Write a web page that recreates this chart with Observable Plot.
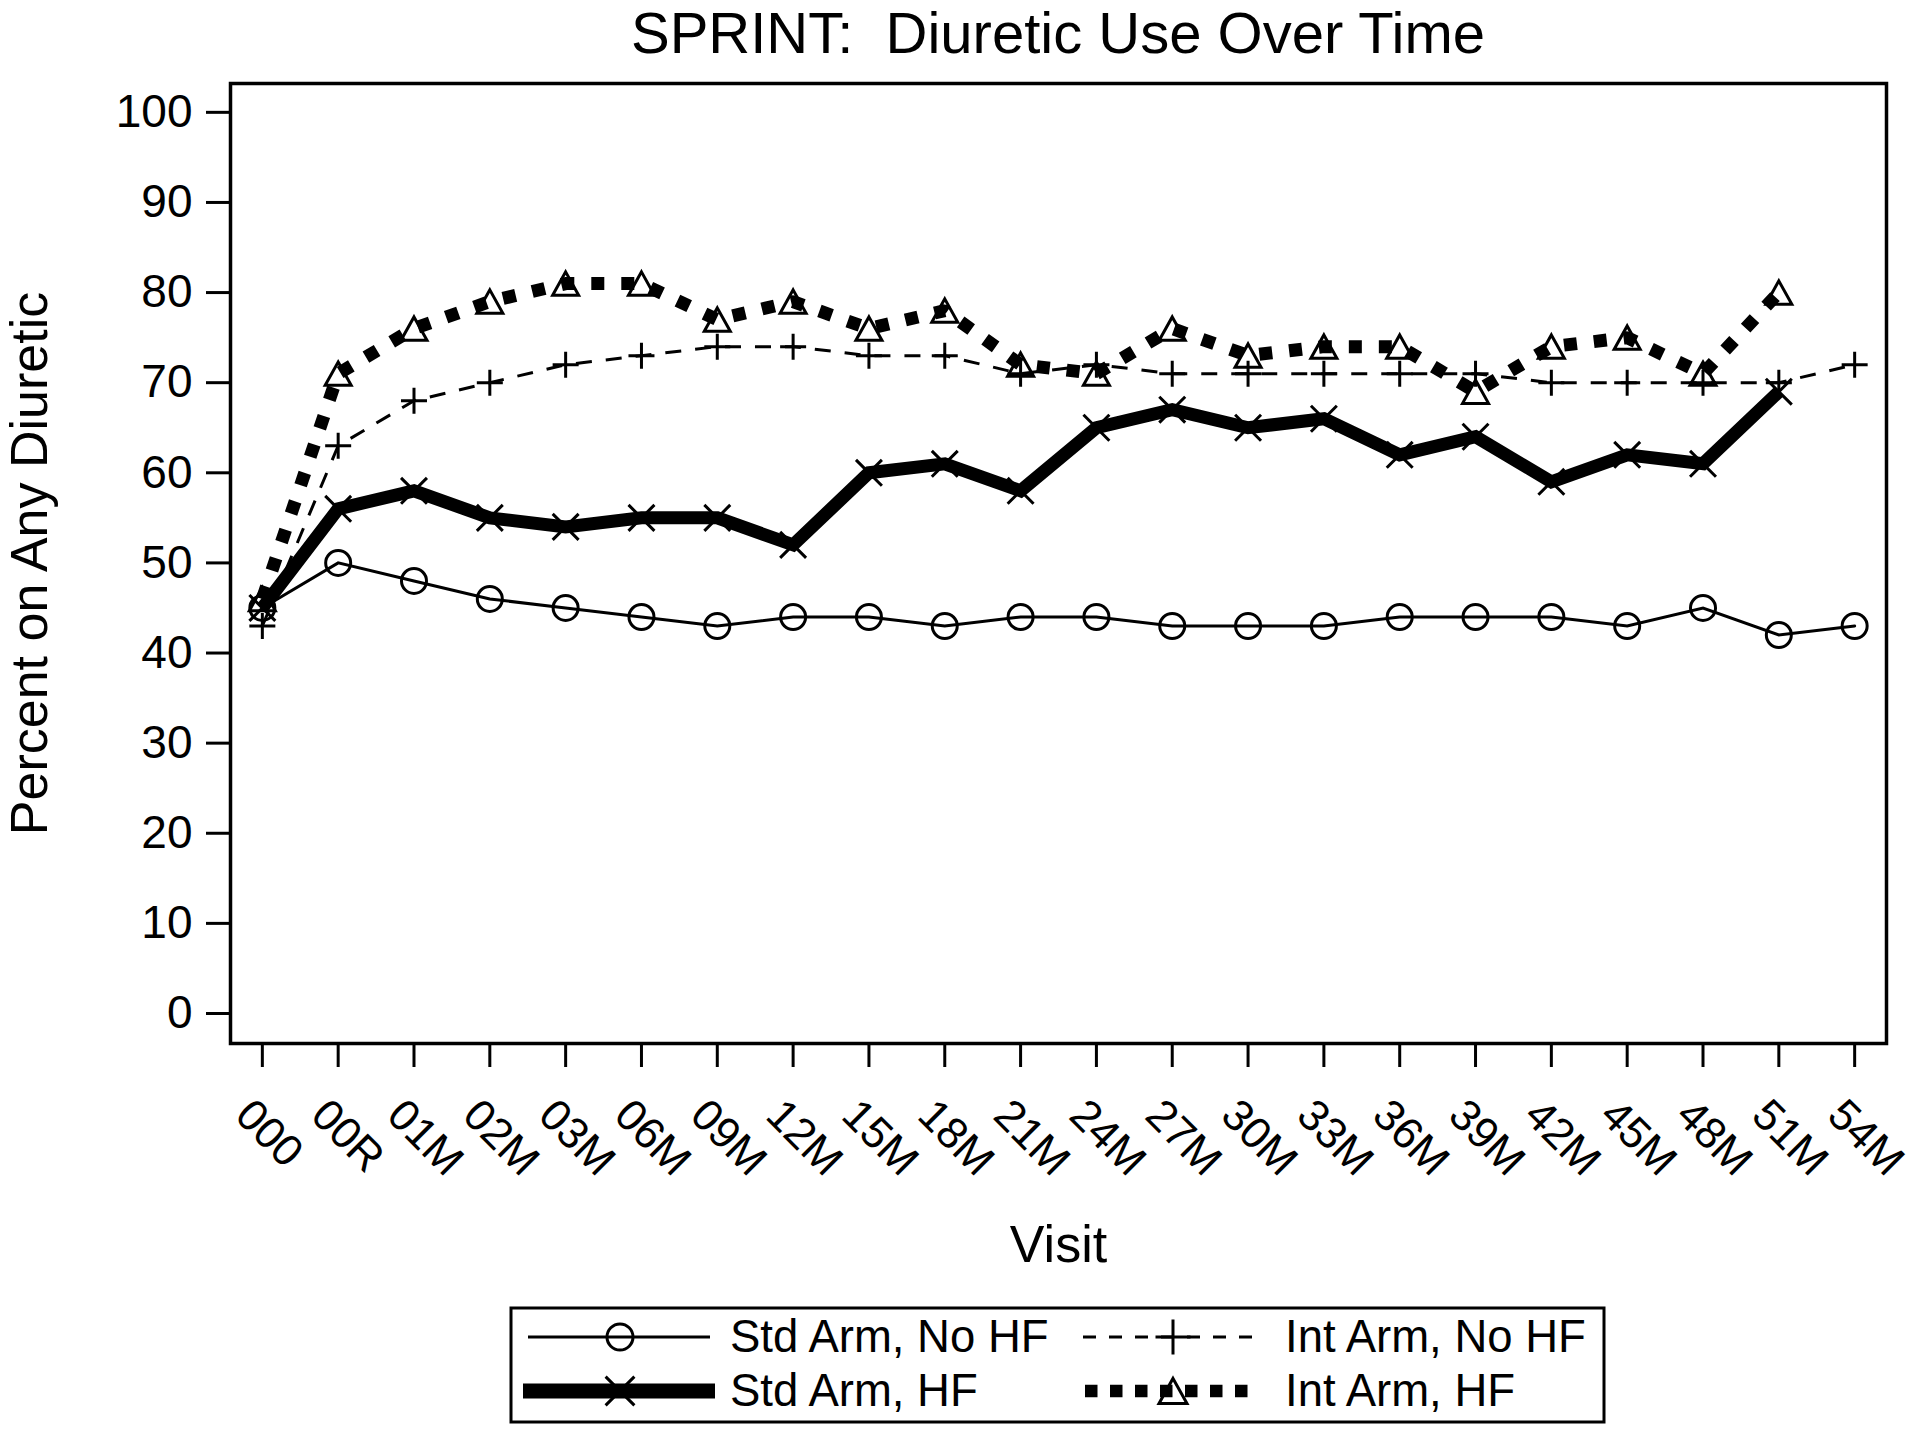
<!DOCTYPE html>
<html><head><meta charset="utf-8">
<script src="https://cdn.jsdelivr.net/npm/d3@7"></script>
<script src="https://cdn.jsdelivr.net/npm/@observablehq/plot@0.6"></script>
<style>
html,body{margin:0;padding:0;background:#fff;}
body{width:1920px;height:1431px;overflow:hidden;font-family:"Liberation Sans",Arial,Helvetica,sans-serif;color:#000;}
#title{box-sizing:border-box;width:1920px;height:70px;padding-left:196px;text-align:center;font-size:58px;line-height:66px;white-space:pre;}
svg{display:block;}
</style></head><body>
<div id="title"></div>
<div id="chart"></div>
<script>
// ---- data ----
const title = "SPRINT:  Diuretic Use Over Time";
const visits = ["000","00R","01M","02M","03M","06M","09M","12M","15M","18M","21M","24M","27M","30M","33M","36M","39M","42M","45M","48M","51M","54M"];
const stdNoHF = [45,50,48,46,45,44,43,44,44,43,44,44,43,43,43,44,44,44,43,45,42,43];
const intNoHF = [43,63,68,70,72,73,74,74,73,73,71,72,71,71,71,71,71,70,70,70,70,72];
const stdHF   = [45,56,58,55,54,55,55,52,60,61,58,65,67,65,66,62,64,59,62,61,69];
const intHF   = [46,71,76,79,81,81,77,79,76,78,72,71,76,73,74,74,69,74,75,71,80];
const yTicks = [0,10,20,30,40,50,60,70,80,90,100];
const yLabel = "Percent on Any Diuretic";
const xLabel = "Visit";
const seriesNames = ["Std Arm, No HF","Int Arm, No HF","Std Arm, HF","Int Arm, HF"];

document.getElementById("title").textContent = title;

// ---- custom marker symbols (size = pi*R^2) ----
const mk = f => ({draw(c, size){ const R = Math.sqrt(size/Math.PI); f(c, R); }});
const symCircle = mk((c,R)=>{ c.moveTo(R,0); c.arc(0,0,R,0,2*Math.PI); c.closePath(); });
const symPlus   = mk((c,R)=>{ c.moveTo(-R,0); c.lineTo(R,0); c.moveTo(0,-R); c.lineTo(0,R); });
const symTimes  = mk((c,R)=>{ const a=R*0.72; c.moveTo(-a,-a); c.lineTo(a,a); c.moveTo(-a,a); c.lineTo(a,-a); });
const symTri    = mk((c,R)=>{ c.moveTo(0,-R*0.9); c.lineTo(R,R*0.9); c.lineTo(-R,R*0.9); c.closePath(); });

const rows = arr => arr.map((v,i)=>({visit: visits[i], value: v}));
const font = "'Liberation Sans', Arial, Helvetica, sans-serif";

const plot = Plot.plot({
  width: 1920, height: 1225,
  marginLeft: 230, marginRight: 34, marginTop: 13, marginBottom: 252,
  x: {type: "point", domain: visits, padding: 0.42, round: false},
  y: {domain: [-3.33, 103.2]},
  style: {fontFamily: font, background: "white", color: "black", overflow: "visible"},
  marks: [
    Plot.axisY({ticks: yTicks, tickSize: 24, tickPadding: 14, fontSize: 46, strokeWidth: 3, label: null}),
    Plot.axisX({tickSize: 24, strokeWidth: 3, tickFormat: () => "", label: null}),
    Plot.text(visits, {x: d => d, text: d => d, frameAnchor: "bottom", dy: 52, dx: -7, rotate: 45,
      textAnchor: "start", lineAnchor: "top", fontSize: 44}),
    Plot.text([yLabel], {text: d => d, frameAnchor: "left", dx: -200, rotate: -90, fontSize: 52,
      textAnchor: "middle", lineAnchor: "middle"}),
    Plot.text([xLabel], {text: d => d, frameAnchor: "bottom", dy: 201.5, fontSize: 52,
      textAnchor: "middle", lineAnchor: "middle"}),
    // lines
    Plot.line(rows(stdNoHF), {x: "visit", y: "value", stroke: "black", strokeWidth: 3, strokeLinejoin: "miter", strokeMiterlimit: 4}),
    Plot.line(rows(intNoHF), {x: "visit", y: "value", stroke: "black", strokeWidth: 3, strokeDasharray: "16,14", strokeLinecap: "butt"}),
    Plot.line(rows(stdHF), {x: "visit", y: "value", stroke: "black", strokeWidth: 13, strokeLinejoin: "miter", strokeMiterlimit: 4, strokeLinecap: "butt"}),
    Plot.line(rows(intHF), {x: "visit", y: "value", stroke: "black", strokeWidth: 13, strokeDasharray: "13,17", strokeLinecap: "butt", strokeLinejoin: "miter"}),
    // markers
    Plot.dot(rows(stdNoHF), {x: "visit", y: "value", symbol: symCircle, r: 12.5, fill: "none", stroke: "black", strokeWidth: 3}),
    Plot.dot(rows(intNoHF), {x: "visit", y: "value", symbol: symPlus, r: 13, fill: "none", stroke: "black", strokeWidth: 3}),
    Plot.dot(rows(stdHF), {x: "visit", y: "value", symbol: symTimes, r: 18, fill: "none", stroke: "black", strokeWidth: 3}),
    Plot.dot(rows(intHF), {x: "visit", y: "value", symbol: symTri, r: 13, fill: "none", stroke: "black", strokeWidth: 3}),
    Plot.frame({stroke: "black", strokeWidth: 3.5})
  ]
});
document.getElementById("chart").appendChild(plot);

// ---- legend ----
const L = d3.create("svg").attr("width", 1920).attr("height", 136)
  .style("font-family", font);
L.append("rect").attr("x", 511).attr("y", 13).attr("width", 1093).attr("height", 114)
  .attr("fill", "none").attr("stroke", "black").attr("stroke-width", 3);
const sym = (s, R) => d3.symbol(s, Math.PI*R*R)();
const items = [
  {name: seriesNames[0], x1: 528, x2: 710, mx: 620, y: 42, sw: 3, dash: null, s: symCircle, R: 13},
  {name: seriesNames[2], x1: 523, x2: 715, mx: 620, y: 96, sw: 15, dash: null, s: symTimes, R: 20},
  {name: seriesNames[1], x1: 1083, x2: 1252, mx: 1173, y: 42, sw: 3, dash: "13,13", s: symPlus, R: 17.5},
  {name: seriesNames[3], x1: 1085, x2: 1248, mx: 1173, y: 96, sw: 12.5, dash: "12.5,12.5", s: symTri, R: 14}
];
items.forEach((it, i) => {
  const ln = L.append("line").attr("x1", it.x1).attr("x2", it.x2).attr("y1", it.y).attr("y2", it.y)
    .attr("stroke", "black").attr("stroke-width", it.sw);
  if (it.dash) ln.attr("stroke-dasharray", it.dash);
  L.append("path").attr("d", sym(it.s, it.R)).attr("transform", `translate(${it.mx},${it.y})`)
    .attr("fill", "none").attr("stroke", "black").attr("stroke-width", 3);
  L.append("text").attr("x", it.mx < 1000 ? 730 : 1285).attr("y", it.y + 15)
    .attr("font-size", 45.5).attr("fill", "black").text(it.name);
});
document.getElementById("chart").appendChild(L.node());
</script>
</body></html>
